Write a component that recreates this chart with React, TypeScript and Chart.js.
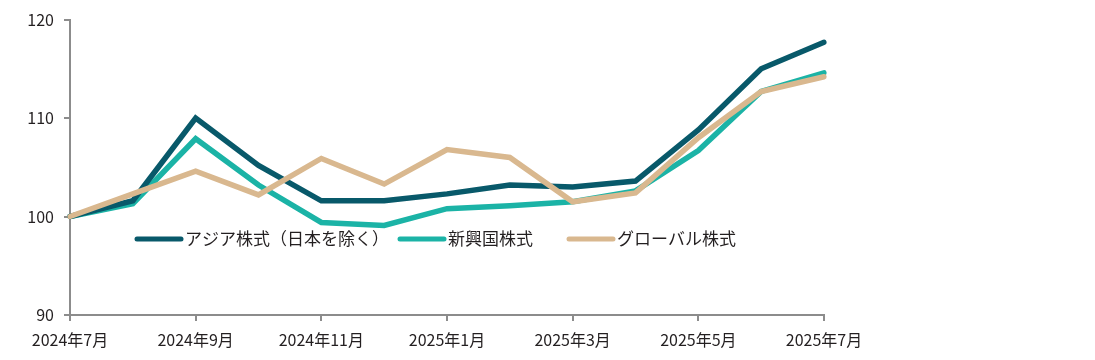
import React, { useEffect, useRef } from "react";
import { Chart, registerables } from "chart.js";

Chart.register(...registerables);

const months = [
  "2024年7月", "2024年8月", "2024年9月", "2024年10月", "2024年11月", "2024年12月",
  "2025年1月", "2025年2月", "2025年3月", "2025年4月", "2025年5月", "2025年6月", "2025年7月",
];
const asiaExJapan = [100, 101.6, 110.0, 105.2, 101.6, 101.6, 102.3, 103.2, 103.0, 103.6, 108.8, 115.0, 117.7];
const emerging = [100, 101.3, 107.9, 103.2, 99.4, 99.1, 100.8, 101.1, 101.5, 102.6, 106.7, 112.7, 114.6];
const globalEq = [100, 102.3, 104.6, 102.2, 105.9, 103.3, 106.8, 106.0, 101.5, 102.4, 108.0, 112.7, 114.2];
const seriesNames = ["アジア株式（日本を除く）", "新興国株式", "グローバル株式"];
const yTicks = [90, 100, 110, 120];

const COLORS = ["#08596a", "#1bb3a6", "#d9b88f"];
const FONT = "'Noto Sans CJK JP', 'Noto Sans', sans-serif";
const TEXT = "#231f20";

const legendPlugin = {
  id: "inlineLegend",
  afterDraw(chart: any) {
    const ctx = chart.ctx;
    const y = 239;
    const starts = [135, 398, 567];
    ctx.save();
    chart.data.datasets.forEach((ds: any, i: number) => {
      const x0 = starts[i];
      ctx.strokeStyle = ds.borderColor;
      ctx.lineWidth = 5;
      ctx.lineCap = "round";
      ctx.beginPath();
      ctx.moveTo(x0 + 2, y);
      ctx.lineTo(x0 + 46, y);
      ctx.stroke();
      ctx.fillStyle = TEXT;
      ctx.font = `17px ${FONT}`;
      ctx.textBaseline = "middle";
      ctx.textAlign = "left";
      ctx.fillText(ds.label, x0 + 50, y);
    });
    ctx.restore();
  },
};

export default function App() {
  const ref = useRef<HTMLCanvasElement>(null);
  useEffect(() => {
    document.body.style.margin = "0";
    const data = [asiaExJapan, emerging, globalEq];
    const orders = [1, 2, 0];
    const chart = new Chart(ref.current!, {
      type: "line",
      data: {
        labels: months,
        datasets: data.map((d, i) => ({
          label: seriesNames[i],
          data: d,
          borderColor: COLORS[i],
          backgroundColor: COLORS[i],
          borderWidth: 5.5,
          pointRadius: 0,
          tension: 0,
          borderCapStyle: "round" as const,
          borderJoinStyle: "miter" as const,
          order: orders[i],
        })),
      },
      options: {
        animation: false,
        responsive: false,
        maintainAspectRatio: false,
        layout: { padding: { left: 0, right: 271, top: 17, bottom: 0 } },
        plugins: { legend: { display: false }, tooltip: { enabled: false } },
        scales: {
          x: {
            type: "category",
            offset: false,
            grid: { drawOnChartArea: false, color: "#8c8c8c", tickLength: 6, lineWidth: 2 },
            border: { color: "#8c8c8c", width: 2 },
            ticks: {
              autoSkip: false,
              maxRotation: 0,
              padding: 9,
              color: TEXT,
              font: { size: 16, family: FONT },
              callback: (_v: any, i: number) => (i % 2 === 0 ? months[i] : null),
            },
            afterFit: (s: any) => { s.height = 45; },
          },
          y: {
            min: 90,
            max: 120,
            afterBuildTicks: (s: any) => { s.ticks = yTicks.map((v) => ({ value: v })); },
            grid: { drawOnChartArea: false, color: "#8c8c8c", tickLength: 6, lineWidth: 2 },
            border: { color: "#8c8c8c", width: 2 },
            ticks: {
              padding: 10,
              color: TEXT,
              font: { size: 16, family: FONT },
            },
            afterFit: (s: any) => { s.width = 70; },
          },
        },
      },
      plugins: [legendPlugin],
    });
    return () => chart.destroy();
  }, []);
  return (
    <div style={{ width: 1095, height: 360, background: "#fff" }}>
      <canvas ref={ref} width={1095} height={360} style={{ display: "block" }} />
    </div>
  );
}
